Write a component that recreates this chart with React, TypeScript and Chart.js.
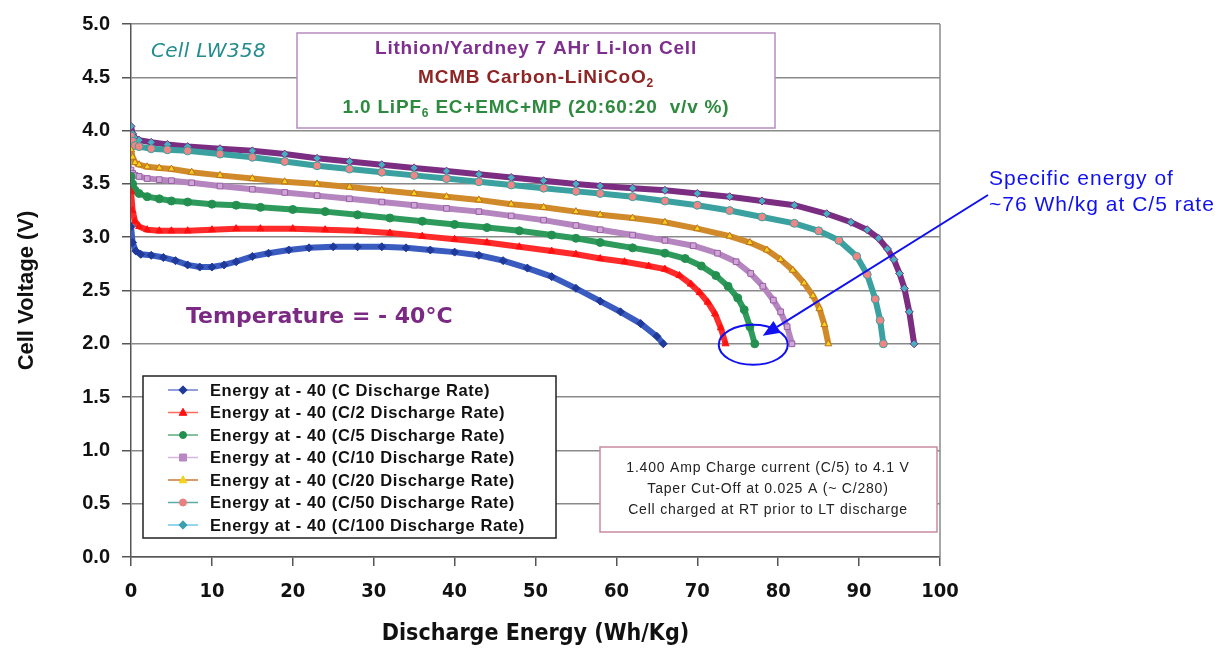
import React, { useEffect, useRef } from "react";
import { Chart, registerables } from "chart.js";
Chart.register(...registerables);

// ---------- DATA ----------
const seriesLabels = [
  "Energy at - 40 (C Discharge Rate)",
  "Energy at - 40 (C/2 Discharge Rate)",
  "Energy at - 40 (C/5 Discharge Rate)",
  "Energy at - 40 (C/10 Discharge Rate)",
  "Energy at - 40 (C/20 Discharge Rate)",
  "Energy at - 40 (C/50 Discharge Rate)",
  "Energy at - 40 (C/100 Discharge Rate)",
];

const energyC = [0, 0.2, 0.6, 1.2, 2.5, 4, 5.5, 7, 8.5, 10, 11.5, 13, 15, 17, 19.5, 22, 25, 28, 31, 34, 37, 40, 43, 46, 49, 52, 55, 58, 60.5, 63, 65, 65.8];
const voltC = [3.10, 2.95, 2.87, 2.84, 2.83, 2.81, 2.78, 2.74, 2.72, 2.72, 2.74, 2.77, 2.82, 2.85, 2.88, 2.90, 2.91, 2.91, 2.91, 2.90, 2.88, 2.86, 2.83, 2.78, 2.71, 2.63, 2.52, 2.40, 2.30, 2.19, 2.07, 2.00];

const energyC2 = [0, 0.2, 0.5, 1, 2, 3.5, 5, 7, 10, 13, 16, 20, 24, 28, 32, 36, 40, 44, 48, 52, 55, 58, 61, 64, 66, 67.8, 69.2, 70.3, 71.3, 72.2, 72.9, 73.5];
const voltC2 = [3.43, 3.25, 3.15, 3.10, 3.07, 3.06, 3.06, 3.06, 3.07, 3.08, 3.08, 3.08, 3.07, 3.06, 3.04, 3.01, 2.98, 2.95, 2.91, 2.87, 2.84, 2.80, 2.77, 2.73, 2.70, 2.64, 2.56, 2.48, 2.39, 2.28, 2.15, 2.00];

const energyC5 = [0, 0.2, 0.5, 1, 2, 3.5, 5, 7, 10, 13, 16, 20, 24, 28, 32, 36, 40, 44, 48, 52, 55, 58, 62, 66, 68.5, 70.5, 72.3, 73.8, 75, 75.8, 76.5, 77.1];
const voltC5 = [3.57, 3.50, 3.44, 3.41, 3.38, 3.36, 3.34, 3.33, 3.31, 3.30, 3.28, 3.26, 3.24, 3.21, 3.18, 3.15, 3.12, 3.09, 3.06, 3.02, 2.99, 2.95, 2.90, 2.85, 2.80, 2.73, 2.64, 2.54, 2.43, 2.32, 2.16, 2.00];

const energyC10 = [0, 0.2, 0.5, 1, 2, 3.5, 5, 7.5, 11, 15, 19, 23, 27, 31, 35, 39, 43, 47, 51, 55, 58, 62, 66, 69.5, 72.5, 74.8, 76.6, 78.1, 79.4, 80.3, 81.1, 81.7];
const voltC10 = [3.63, 3.60, 3.58, 3.57, 3.55, 3.54, 3.53, 3.51, 3.48, 3.45, 3.42, 3.39, 3.36, 3.33, 3.30, 3.27, 3.24, 3.20, 3.16, 3.11, 3.07, 3.02, 2.97, 2.92, 2.85, 2.77, 2.66, 2.54, 2.41, 2.30, 2.16, 2.00];

const energyC20 = [0, 0.2, 0.5, 1, 2, 3.5, 5, 7.5, 11, 15, 19, 23, 27, 31, 35, 39, 43, 47, 51, 55, 58, 62, 66, 70, 74, 76.5, 78.6, 80.3, 81.8, 83.2, 84.3, 85.1, 85.7, 86.2];
const voltC20 = [3.82, 3.75, 3.70, 3.68, 3.66, 3.65, 3.64, 3.61, 3.58, 3.55, 3.52, 3.50, 3.47, 3.44, 3.41, 3.38, 3.35, 3.31, 3.28, 3.24, 3.21, 3.18, 3.14, 3.08, 3.01, 2.95, 2.88, 2.79, 2.69, 2.57, 2.45, 2.33, 2.18, 2.00];

const energyC50 = [0, 0.2, 0.5, 1, 2.5, 4.5, 7, 11, 15, 19, 23, 27, 31, 35, 39, 43, 47, 51, 55, 58, 62, 66, 70, 74, 78, 82, 85, 87.5, 89.7, 91, 92, 92.6, 93];
const voltC50 = [3.95, 3.90, 3.86, 3.85, 3.83, 3.82, 3.81, 3.78, 3.75, 3.71, 3.67, 3.64, 3.61, 3.58, 3.55, 3.52, 3.49, 3.46, 3.43, 3.41, 3.38, 3.34, 3.30, 3.25, 3.19, 3.13, 3.06, 2.97, 2.82, 2.65, 2.42, 2.22, 2.00];

const energyC100 = [0, 0.2, 0.5, 1, 2.5, 4.5, 7, 11, 15, 19, 23, 27, 31, 35, 39, 43, 47, 51, 55, 58, 62, 66, 70, 74, 78, 82, 86, 89, 91, 92.4, 93.5, 94.3, 95, 95.6, 96.2, 96.8];
const voltC100 = [4.04, 3.97, 3.93, 3.91, 3.89, 3.87, 3.85, 3.83, 3.81, 3.78, 3.74, 3.71, 3.68, 3.65, 3.62, 3.59, 3.56, 3.53, 3.50, 3.48, 3.46, 3.44, 3.41, 3.38, 3.34, 3.30, 3.22, 3.14, 3.07, 2.99, 2.89, 2.79, 2.66, 2.52, 2.30, 2.00];

const xTickValues = [0, 10, 20, 30, 40, 50, 60, 70, 80, 90, 100];
const yTickValues = [0, 0.5, 1.0, 1.5, 2.0, 2.5, 3.0, 3.5, 4.0, 4.5, 5.0];

const boxLine1 = "Lithion/Yardney 7 AHr Li-Ion Cell";
const boxLine2 = [{ t: "MCMB Carbon-LiNiCoO" }, { t: "2", sub: true }];
const boxLine3 = [{ t: "1.0 LiPF" }, { t: "6", sub: true }, { t: " EC+EMC+MP (20:60:20  v/v %)" }];
const cellLabel = "Cell LW358";
const tempLabel = "Temperature = - 40\u00B0C";
const chargeNotes = [
  "1.400 Amp Charge current (C/5) to 4.1 V",
  "Taper Cut-Off at 0.025 A (~ C/280)",
  "Cell charged at RT prior to LT discharge",
];
const calloutLines = ["Specific energy of", "~76 Wh/kg at C/5 rate"];

// ---------- STYLES ----------
const seriesStyles = [
  { line: "#3A5BC0", fill: "#1F3A9A", border: "#1F3A9A", shape: "rectRot", legLine: "#6C80D0", legFill: "#1F3A9A" },
  { line: "#FF2A2A", fill: "#FF1010", border: "#FF1010", shape: "triangle", legLine: "#FF6A5A", legFill: "#FF1010" },
  { line: "#2E9A5C", fill: "#239050", border: "#239050", shape: "circle", legLine: "#5AAE7C", legFill: "#239050" },
  { line: "#B485BE", fill: "#CFA6D6", border: "#9A5FA6", shape: "rect", legLine: "#D7B5DD", legFill: "#B888C2" },
  { line: "#D08A2A", fill: "#F2D21A", border: "#C07020", shape: "triangle", legLine: "#C8783A", legFill: "#F2D21A" },
  { line: "#3AA0A0", fill: "#F08585", border: "#3AA0A0", shape: "circle", legLine: "#5AAAA8", legFill: "#E88080" },
  { line: "#7B2D82", fill: "#45B0C0", border: "#7B2D82", shape: "rectRot", legLine: "#70C8E8", legFill: "#3AA0B0" },
];

const seriesData = [
  [energyC, voltC],
  [energyC2, voltC2],
  [energyC5, voltC5],
  [energyC10, voltC10],
  [energyC20, voltC20],
  [energyC50, voltC50],
  [energyC100, voltC100],
];

function drawMarker(ctx: CanvasRenderingContext2D, shape: string, x: number, y: number, r: number, fill: string, stroke: string) {
  ctx.save();
  ctx.fillStyle = fill;
  ctx.strokeStyle = stroke;
  ctx.lineWidth = 1;
  ctx.beginPath();
  if (shape === "circle") ctx.arc(x, y, r, 0, Math.PI * 2);
  else if (shape === "rect") ctx.rect(x - r, y - r, 2 * r, 2 * r);
  else if (shape === "rectRot") { ctx.moveTo(x, y - r * 1.2); ctx.lineTo(x + r * 1.2, y); ctx.lineTo(x, y + r * 1.2); ctx.lineTo(x - r * 1.2, y); ctx.closePath(); }
  else if (shape === "triangle") { ctx.moveTo(x, y - r * 1.2); ctx.lineTo(x + r * 1.1, y + r * 0.8); ctx.lineTo(x - r * 1.1, y + r * 0.8); ctx.closePath(); }
  ctx.fill();
  ctx.stroke();
  ctx.restore();
}

function setSpacing(ctx: any, px: number) {
  if ("letterSpacing" in ctx) ctx.letterSpacing = `${px}px`;
}

function drawRich(ctx: CanvasRenderingContext2D, parts: { t: string; sub?: boolean }[], cx: number, cy: number, size: number, color: string, family: string, spacing: number) {
  const main = `bold ${size}px ${family}`;
  const sub = `bold ${Math.round(size * 0.65)}px ${family}`;
  setSpacing(ctx, spacing);
  let w = 0;
  for (const p of parts) { ctx.font = p.sub ? sub : main; w += ctx.measureText(p.t).width; }
  let x = cx - w / 2;
  ctx.fillStyle = color;
  ctx.textAlign = "left";
  ctx.textBaseline = "middle";
  for (const p of parts) {
    ctx.font = p.sub ? sub : main;
    ctx.fillText(p.t, x, p.sub ? cy + size * 0.3 : cy);
    x += ctx.measureText(p.t).width;
  }
  setSpacing(ctx, 0);
}

const annotationsPlugin = {
  id: "annotations",
  beforeDatasetsDraw(chart: any) {
    const { ctx, chartArea } = chart;
    ctx.save();
    ctx.strokeStyle = "#8a8a8a";
    ctx.lineWidth = 1.5;
    ctx.beginPath();
    ctx.moveTo(chartArea.right, chartArea.top);
    ctx.lineTo(chartArea.right, chartArea.bottom);
    ctx.stroke();
    ctx.restore();
  },
  afterDraw(chart: any) {
    const { ctx } = chart;
    const xs = chart.scales.x;
    const ys = chart.scales.y;
    const fam = "'Liberation Sans', Arial, sans-serif";
    ctx.save();

    // Top info box
    ctx.fillStyle = "#ffffff";
    ctx.fillRect(297, 33, 478, 95);
    ctx.strokeStyle = "#B68CC0";
    ctx.lineWidth = 1.5;
    ctx.strokeRect(297, 33, 478, 95);
    drawRich(ctx, [{ t: boxLine1 }], 536, 49, 19, "#7E2E8E", fam, 0.8);
    drawRich(ctx, boxLine2, 536, 78, 19, "#8E2424", fam, 0.8);
    drawRich(ctx, boxLine3, 536, 108, 19, "#2E8A3E", fam, 0.8);

    // Cell label
    ctx.font = "italic 20px 'DejaVu Sans', sans-serif";
    ctx.fillStyle = "#238C8C";
    ctx.textAlign = "left";
    ctx.textBaseline = "middle";
    setSpacing(ctx, 0.3);
    ctx.fillText(cellLabel, 151, 52);
    setSpacing(ctx, 0);

    // Temperature label
    ctx.font = "bold 22px 'DejaVu Sans', sans-serif";
    ctx.fillStyle = "#7A2A82";
    ctx.fillText(tempLabel, 186, 317);

    // Charge notes box
    ctx.fillStyle = "#ffffff";
    ctx.fillRect(600, 447, 337, 85);
    ctx.strokeStyle = "#C98BA0";
    ctx.lineWidth = 1.5;
    ctx.strokeRect(600, 447, 337, 85);
    ctx.font = `14px ${fam}`;
    ctx.fillStyle = "#222";
    ctx.textAlign = "center";
    setSpacing(ctx, 0.8);
    chargeNotes.forEach((t, i) => ctx.fillText(t, 768, 468 + i * 21));
    setSpacing(ctx, 0);

    // Legend box
    ctx.fillStyle = "#ffffff";
    ctx.fillRect(143, 376, 413, 162);
    ctx.strokeStyle = "#222";
    ctx.lineWidth = 1.5;
    ctx.strokeRect(143, 376, 413, 162);
    chart.data.datasets.forEach((ds: any, i: number) => {
      const st = seriesStyles[i];
      const y = 390 + i * 22.5;
      ctx.strokeStyle = st.legLine;
      ctx.lineWidth = 1.5;
      ctx.beginPath();
      ctx.moveTo(168, y);
      ctx.lineTo(198, y);
      ctx.stroke();
      drawMarker(ctx, st.shape, 183, y, 3.5, st.legFill, st.legFill);
      ctx.font = `bold 16.5px ${fam}`;
      ctx.fillStyle = "#111";
      ctx.textAlign = "left";
      ctx.textBaseline = "middle";
      setSpacing(ctx, 0.6);
      ctx.fillText(ds.label, 210, y + 1);
      setSpacing(ctx, 0);
    });

    // Ellipse around C/5 end point
    const ex = xs.getPixelForValue(77.1);
    const ey = ys.getPixelForValue(1.99);
    ctx.strokeStyle = "#1010F0";
    ctx.lineWidth = 2;
    ctx.beginPath();
    ctx.ellipse(ex - 1.5, ey, 34.5, 20, 0, 0, Math.PI * 2);
    ctx.stroke();

    // Arrow
    const x0 = 988, y0 = 195;
    const x1 = ex + 8, y1 = ey - 9;
    const ang = Math.atan2(y1 - y0, x1 - x0);
    const hl = 17, hw = 7;
    const bx = x1 - hl * Math.cos(ang), by = y1 - hl * Math.sin(ang);
    ctx.beginPath();
    ctx.moveTo(x0, y0);
    ctx.lineTo(bx, by);
    ctx.stroke();
    ctx.fillStyle = "#1010F0";
    ctx.beginPath();
    ctx.moveTo(x1, y1);
    ctx.lineTo(bx + hw * Math.sin(ang), by - hw * Math.cos(ang));
    ctx.lineTo(bx - hw * Math.sin(ang), by + hw * Math.cos(ang));
    ctx.closePath();
    ctx.fill();

    // Callout text
    ctx.font = `21px ${fam}`;
    ctx.fillStyle = "#1010F0";
    ctx.textAlign = "left";
    ctx.textBaseline = "middle";
    setSpacing(ctx, 1.0);
    calloutLines.forEach((t, i) => ctx.fillText(t, 989, 179 + i * 26));
    setSpacing(ctx, 0);

    ctx.restore();
  },
};

export default function App() {
  const ref = useRef<HTMLCanvasElement>(null);
  useEffect(() => {
    const canvas = ref.current!;
    const datasets = seriesData.map(([xs, ys], i) => {
      const st = seriesStyles[i];
      return {
        label: seriesLabels[i],
        data: xs.map((x, j) => ({ x, y: ys[j] })),
        showLine: true,
        borderColor: st.line,
        borderWidth: 6,
        backgroundColor: st.fill,
        pointBackgroundColor: st.fill,
        pointBorderColor: st.border,
        pointBorderWidth: 1,
        pointRadius: 4,
        pointStyle: st.shape as any,
        tension: 0,
      };
    });
    const tickFontY = { family: "'Liberation Sans', Arial, sans-serif", size: 20, weight: "bold" as const };
    const titleFontY = { family: "'Liberation Sans', Arial, sans-serif", size: 22, weight: "bold" as const };
    const tickFontX = { family: "'Liberation Sans Narrow', 'DejaVu Sans Condensed', Arial, sans-serif", size: 20, weight: "bold" as const };
    const titleFontX = { family: "'Liberation Sans Narrow', 'DejaVu Sans Condensed', Arial, sans-serif", size: 23, weight: "bold" as const };
    const chart = new Chart(canvas, {
      type: "scatter",
      data: { datasets },
      options: {
        responsive: false,
        animation: false,
        layout: { padding: { left: 0, right: 291, top: 18, bottom: 0 } },
        plugins: { legend: { display: false }, tooltip: { enabled: false } },
        scales: {
          x: {
            type: "linear",
            min: 0,
            max: 100,
            afterBuildTicks: (s: any) => { s.ticks = xTickValues.map((v) => ({ value: v })); },
            afterFit: (s: any) => { s.height = 95; },
            grid: { drawOnChartArea: false, drawTicks: true, tickLength: 9, tickColor: "#555", lineWidth: 1.5 },
            border: { display: true, color: "#555", width: 1.5 },
            ticks: { color: "#111", font: tickFontX, padding: 14, maxRotation: 0, callback: (v: any) => String(v) },
            title: { display: true, text: "Discharge Energy (Wh/Kg)", color: "#111", font: titleFontX, padding: { top: 0, bottom: 4 } },
          },
          y: {
            type: "linear",
            min: 0,
            max: 5,
            afterBuildTicks: (s: any) => { s.ticks = yTickValues.map((v) => ({ value: v })); },
            afterFit: (s: any) => { s.width = 131; },
            grid: { color: "#8a8a8a", lineWidth: 1.5, drawTicks: true, tickLength: 9, tickColor: "#555" },
            border: { display: true, color: "#555", width: 1.5 },
            ticks: { color: "#111", font: tickFontY, padding: 12, callback: (v: any) => Number(v).toFixed(1) },
            title: { display: true, text: "Cell Voltage (V)", color: "#111", font: titleFontY, padding: { top: 14, bottom: 0 } },
          },
        },
      },
      plugins: [annotationsPlugin],
    });
    return () => chart.destroy();
  }, []);
  return (
    <div style={{ position: "fixed", left: 0, top: 0, width: 1231, height: 652, background: "#ffffff" }}>
      <canvas ref={ref} width={1231} height={652} style={{ display: "block" }} />
    </div>
  );
}
